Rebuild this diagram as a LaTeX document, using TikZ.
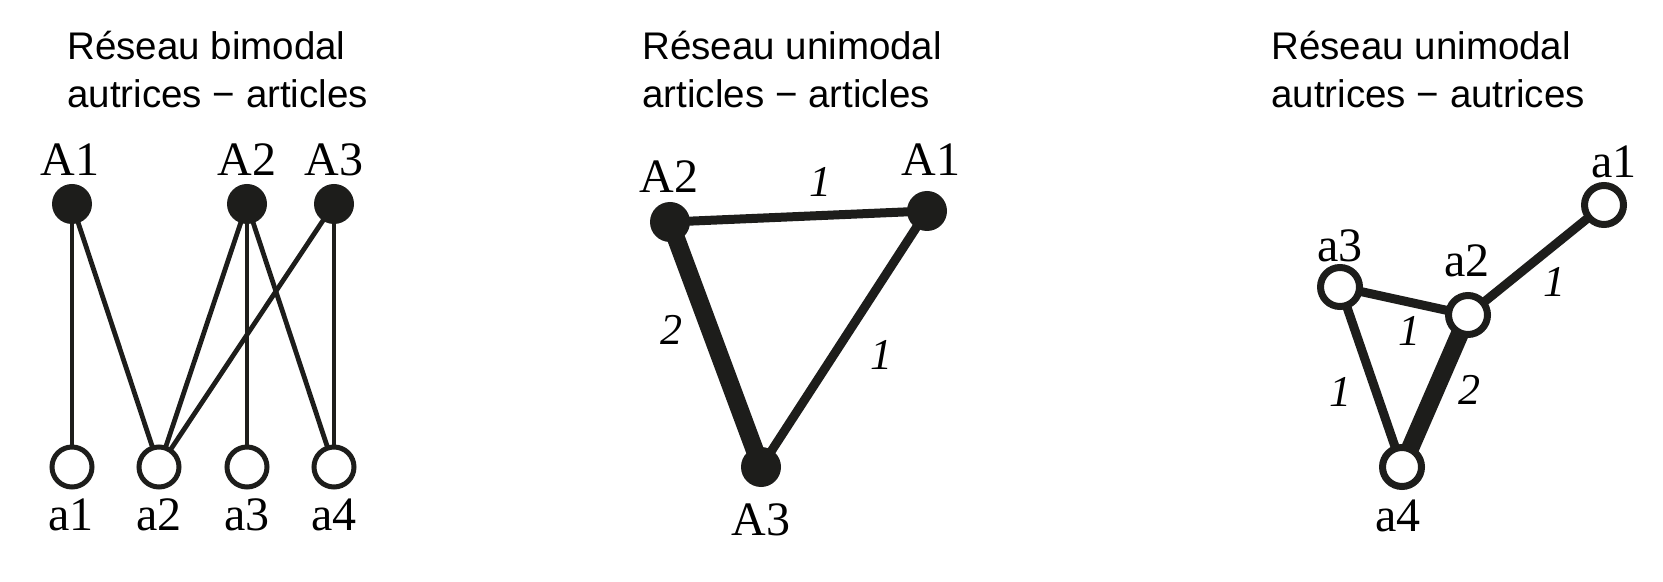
\documentclass[tikz,border=0pt]{standalone}
\usepackage{fontspec}
\setmainfont{Liberation Serif}
\setsansfont{Liberation Sans}
\usepackage{tikz}
\usetikzlibrary{backgrounds}
\definecolor{ink}{RGB}{29,29,27}

\begin{document}
\begin{tikzpicture}[x=0.5pt,y=-0.5pt,
        full/.style={circle,fill=ink,inner sep=0pt,minimum size=20pt},
        hollow/.style={circle,draw=ink,fill=white,line width=2.5pt,inner sep=0pt,minimum size=20pt},
        hollowb/.style={hollow,line width=3.5pt,minimum size=19.5pt},
        link/.style={draw=ink,line width=2.4pt},
        wone/.style={draw=ink,line width=4.5pt},
        wtwo/.style={draw=ink,line width=9pt},
        title/.style={font=\sffamily\fontsize{19.25}{24}\selectfont,anchor=base west,inner sep=0pt},
        vlabel/.style={font=\fontsize{24}{28}\selectfont,anchor=base,inner sep=0pt},
        wlabel/.style={font=\itshape\fontsize{22}{26}\selectfont,inner sep=0pt}]
    \useasboundingbox (0,0) rectangle (1663,582);

    % reseau bimodal
    \node [title] (t1a) at (67,60) {Réseau bimodal};
    \node [title] (t1b) at (67,108) {autrices − articles};
    \node [full] (A1) at (72,204) {};
    \node [full] (A2) at (247,204) {};
    \node [full] (A3) at (334,204) {};
    \node [hollow] (a1) at (72,467) {};
    \node [hollow] (a2) at (159,467) {};
    \node [hollow] (a3) at (247,467) {};
    \node [hollow] (a4) at (334,467) {};
    \node [vlabel] (lA1) at (70,176) {A1};
    \node [vlabel] (lA2) at (247,176) {A2};
    \node [vlabel] (lA3) at (334,176) {A3};
    \node [vlabel] (la1) at (71,530) {a1};
    \node [vlabel] (la2) at (159,530) {a2};
    \node [vlabel] (la3) at (247,530) {a3};
    \node [vlabel] (la4) at (334,530) {a4};
    \begin{scope}[on background layer]
        \draw [link] (A1.center) -- (a1.center);
        \draw [link] (A1.center) -- (a2.center);
        \draw [link] (A2.center) -- (a2.center);
        \draw [link] (A2.center) -- (a3.center);
        \draw [link] (A2.center) -- (a4.center);
        \draw [link] (A3.center) -- (a2.center);
        \draw [link] (A3.center) -- (a4.center);
    \end{scope}

    % articles - articles
    \node [title] (t2a) at (642,60) {Réseau unimodal};
    \node [title] (t2b) at (642,108) {articles − articles};
    \node [full] (B2) at (670,222) {};
    \node [full] (B1) at (927,211) {};
    \node [full] (B3) at (761,467) {};
    \node [vlabel] (lB2) at (669,193) {A2};
    \node [vlabel] (lB1) at (931,176) {A1};
    \node [vlabel] (lB3) at (761,535) {A3};
    \node [wlabel] (w21) at (820,182) {1};
    \node [wlabel] (w23) at (671,330) {2};
    \node [wlabel] (w13) at (881,355) {1};
    \begin{scope}[on background layer]
        \draw [wone] (B2.center) -- (B1.center);
        \draw [wtwo] (B2.center) -- (B3.center);
        \draw [wone] (B1.center) -- (B3.center);
    \end{scope}

    % autrices - autrices
    \node [title] (t3a) at (1271,60) {Réseau unimodal};
    \node [title] (t3b) at (1271,108) {autrices − autrices};
    \node [hollowb] (c1) at (1604,205) {};
    \node [hollowb] (c2) at (1468,315) {};
    \node [hollowb] (c3) at (1340,287) {};
    \node [hollowb] (c4) at (1402,467) {};
    \node [vlabel] (lc1) at (1614,178) {a1};
    \node [vlabel] (lc2) at (1467,277) {a2};
    \node [vlabel] (lc3) at (1340,262) {a3};
    \node [vlabel] (lc4) at (1398,531) {a4};
    \node [wlabel] (v12) at (1554,282) {1};
    \node [wlabel] (v32) at (1409,331) {1};
    \node [wlabel] (v34) at (1340,392) {1};
    \node [wlabel] (v24) at (1469,390) {2};
    \begin{scope}[on background layer]
        \draw [wone] (c1.center) -- (c2.center);
        \draw [wone] (c3.center) -- (c2.center);
        \draw [wone] (c3.center) -- (c4.center);
        \draw [wtwo] (c2.center) -- (c4.center);
    \end{scope}
\end{tikzpicture}
\end{document}
